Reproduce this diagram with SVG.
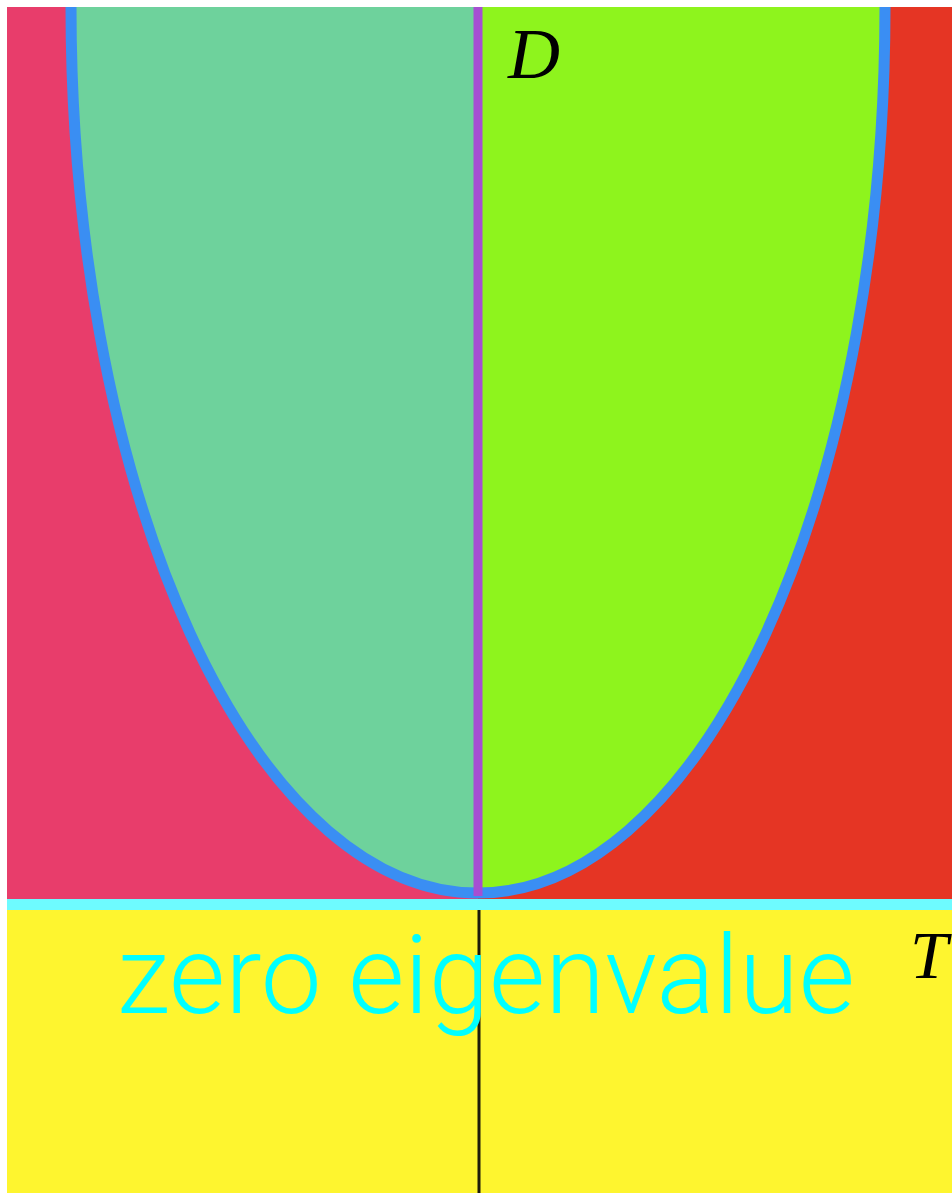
<svg xmlns="http://www.w3.org/2000/svg" width="952" height="1193" viewBox="0 0 952 1193">
  <defs>
    <clipPath id="top"><rect x="7" y="7" width="945" height="892"/></clipPath>
    <clipPath id="leftHalf"><rect x="0" y="0" width="478" height="900"/></clipPath>
    <clipPath id="rightHalf"><rect x="478" y="0" width="474" height="900"/></clipPath>
  </defs>
  <style>
    .math { font-family: "Liberation Serif", "DejaVu Serif", serif; font-style: italic; fill: #000; }
    .label { font-family: Roboto, "Liberation Sans", sans-serif; font-weight: 300; fill: #00FFFF; }
  </style>
  <rect width="952" height="1193" fill="#ffffff"/>
  <g id="region-top" clip-path="url(#top)">
    <rect id="region-left" x="7" y="7" width="471" height="892" fill="#E83D6B"/>
    <rect id="region-right" x="478" y="7" width="474" height="892" fill="#E53524"/>
    <path id="inside-left" clip-path="url(#leftHalf)" d="M 71 -5 L 71 7 A 407 886 0 0 0 478 893 A 407 886 0 0 0 885 7 L 885 -5 Z" fill="#6ED29C"/>
    <path id="inside-right" clip-path="url(#rightHalf)" d="M 71 -5 L 71 7 A 407 886 0 0 0 478 893 A 407 886 0 0 0 885 7 L 885 -5 Z" fill="#8EF41D"/>
  </g>
  <g id="connectors">
    <path id="curve" clip-path="url(#top)" d="M 71 7 A 407 886 0 0 0 478 893 A 407 886 0 0 0 885 7" fill="none" stroke="#3A8EF3" stroke-width="11"/>
    <line id="axis-purple" x1="478" y1="7" x2="478" y2="896" stroke="#A64FD2" stroke-width="9"/>
  </g>
  <g id="region-bottom">
    <rect x="7" y="910" width="945" height="283" fill="#FEF52F"/>
    <rect id="band" x="7" y="899" width="945" height="11" fill="#6EFBFF"/>
    <line id="axis-black" x1="479" y1="910" x2="479" y2="1193" stroke="#1E1C0A" stroke-width="3"/>
  </g>
  <g id="labels">
    <text class="math" x="508" y="78" font-size="72">D</text>
    <text class="math" x="910" y="978" font-size="68">T</text>
    <text class="label" x="117" y="1013" font-size="110" textLength="738" lengthAdjust="spacingAndGlyphs">zero eigenvalue</text>
  </g>
</svg>
